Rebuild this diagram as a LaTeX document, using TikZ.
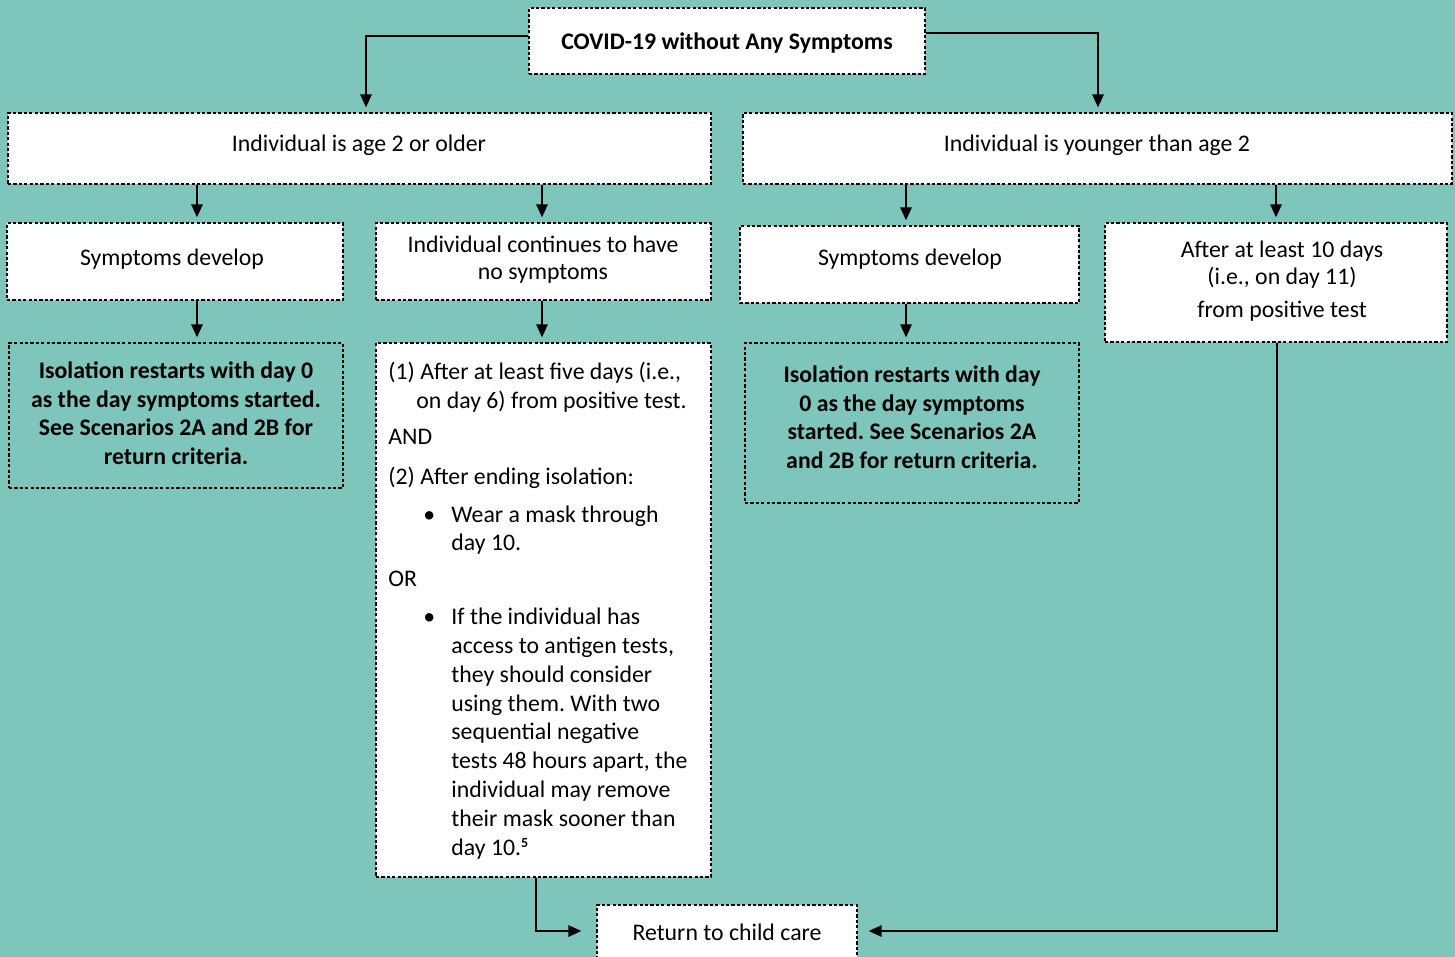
\documentclass[tikz,border=0pt]{standalone}
\usepackage{fontspec}
\setmainfont{Carlito}
\usetikzlibrary{fit,arrows.meta}
\definecolor{bg}{HTML}{7EC6BB}
\frenchspacing
\begin{document}
\begin{tikzpicture}[x=0.5pt,y=-0.5pt,
 box/.style={draw=black, dash pattern=on 1.6pt off 1.1pt, line width=0.55pt, inner sep=0pt, fill=white},
 tbox/.style={box, fill=none},
 conn/.style={line width=1.3pt, -{Triangle[length=6.5pt,width=5.5pt]}, shorten >=2.5pt},
 txt/.style={font=\fontsize{11.9}{13.5}\selectfont, inner sep=0pt, align=center},
 btxt/.style={font=\fontsize{11.9}{14.25}\selectfont\bfseries, inner sep=0pt, align=center},
 ltxt/.style={font=\fontsize{11.9}{13.5}\selectfont, inner sep=0pt, anchor=base west},
]
\fill[bg] (0,0) rectangle (1455,957);
\useasboundingbox (0,0) rectangle (1455,957);

% boxes
\node[box, fit={(529,8) (925,74)}] (top) {};
\node[box, fit={(8,113) (711,184)}] (ageL) {};
\node[box, fit={(743,113) (1452,184)}] (ageR) {};
\node[box, fit={(7,223) (343,300)}] (sympL) {};
\node[box, fit={(376,223) (711,300)}] (cont) {};
\node[box, fit={(740,226) (1079,303)}] (sympR) {};
\node[box, fit={(1105,223) (1447,342)}] (after) {};
\node[tbox, fit={(9,343) (343,488)}] (isoL) {};
\node[box, fit={(376,343) (711,877)}] (big) {};
\node[tbox, fit={(745,343) (1079,503)}] (isoR) {};
\node[box, fit={(597,905) (857,960)}] (ret) {};

% texts
\node[btxt] (topt) at (727,43) {COVID-19 without Any Symptoms};
\node[txt] (ageLt) at (359,145) {Individual is age 2 or older};
\node[txt] (ageRt) at (1097,145) {Individual is younger than age 2};
\node[txt] (sympLt) at (172,259) {Symptoms develop};
\node[txt] (contt) at (543,260) {Individual continues to have\\no symptoms};
\node[txt] (sympRt) at (910,259) {Symptoms develop};
\node[txt] (aftert1) at (1282,265) {After at least 10 days\\(i.e., on day 11)};
\node[txt] (aftert2) at (1282,311) {from positive test};
\node[btxt] (isoLt) at (176,413) {Isolation restarts with day 0\\as the day symptoms started.\\See Scenarios 2A and 2B for\\return criteria.};
\node[btxt] (isoRt) at (912,417) {Isolation restarts with day\\0 as the day symptoms\\started. See Scenarios 2A\\and 2B for return criteria.};
\node[txt] (rett) at (727,932) {Return to child care};

\node[ltxt] (l1) at (388,379) {(1) After at least five days (i.e.,};
\node[ltxt] (l2) at (416,408) {on day 6) from positive test.};
\node[ltxt] (l3) at (388,444) {AND};
\node[ltxt] (l4) at (388,484) {(2) After ending isolation:};
\node[ltxt] (b1) at (423,522) {•};
\node[ltxt] (l5) at (451,522) {Wear a mask through};
\node[ltxt] (l6) at (451,550) {day 10.};
\node[ltxt] (l7) at (388,586) {OR};
\node[ltxt] (b2) at (423,624) {•};
\node[ltxt] (l8) at (451,624) {If the individual has};
\node[ltxt] (l9) at (451,653) {access to antigen tests,};
\node[ltxt] (l10) at (451,682) {they should consider};
\node[ltxt] (l11) at (451,711) {using them. With two};
\node[ltxt] (l12) at (451,739) {sequential negative};
\node[ltxt] (l13) at (451,768) {tests 48 hours apart, the};
\node[ltxt] (l14) at (451,797) {individual may remove};
\node[ltxt] (l15) at (451,826) {their mask sooner than};
\node[ltxt] (l16) at (451,855) {day 10.{\fontsize{7}{7}\selectfont\raisebox{4pt}{\textbf{5}}}};

% connectors
\draw[conn] (top.west |- 0,36) -| (ageL.north -| 366,0);
\draw[conn] (top.east |- 0,33) -| (ageR.north -| 1098,0);
\draw[conn] (ageL.south -| 197,0) -- (sympL.north -| 197,0);
\draw[conn] (ageL.south -| 542,0) -- (cont.north -| 542,0);
\draw[conn] (ageR.south -| 906,0) -- (sympR.north -| 906,0);
\draw[conn] (ageR.south -| 1276,0) -- (after.north -| 1276,0);
\draw[conn] (sympL.south -| 197,0) -- (isoL.north -| 197,0);
\draw[conn] (cont.south -| 542,0) -- (big.north -| 542,0);
\draw[conn] (sympR.south -| 906,0) -- (isoR.north -| 906,0);
\draw[conn, shorten >=7.5pt] (big.south -| 536,0) |- (ret.west |- 0,931);
\draw[conn, shorten >=5.5pt] (after.south -| 1277,0) |- (ret.east |- 0,931);
\end{tikzpicture}
\end{document}
